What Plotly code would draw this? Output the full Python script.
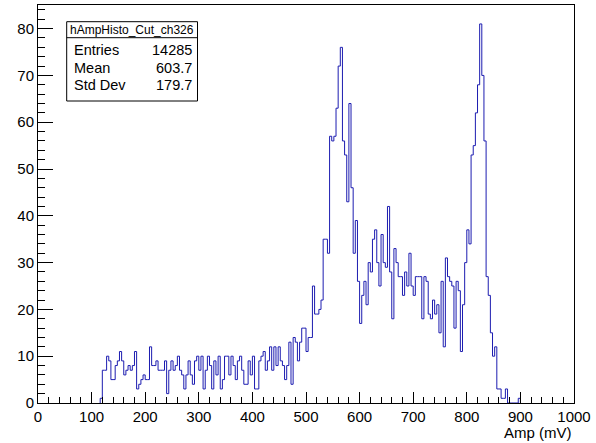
import plotly.graph_objects as go

# ---------------- data ----------------
hist_name = "hAmpHisto_Cut_ch326"
bin_width_mv = 4
first_bin_mv = 116
counts = [
    1,
    7, 7, 10, 9, 5, 5,
    8, 9, 11, 9, 6, 7, 8, 7, 8, 11,
    3, 4, 5, 6, 5, 5, 12, 8, 8, 9,
    7, 7, 7, 9, 2, 7, 9, 7, 8, 10,
    7, 6, 3, 6, 9, 6, 4, 9, 10, 7,
    10, 3, 7, 10, 8, 3, 9, 6, 10, 3,
    5, 10, 10, 6, 10, 8, 5, 9, 10, 7,
    4, 4, 9, 6, 10, 3, 3, 9, 10, 11,
    7, 9, 12, 7, 12, 8, 12, 9, 8, 5,
    8, 13, 4, 14, 13, 9, 13, 16, 16, 11,
    14, 14, 25, 19, 19, 20, 22, 35, 35, 32,
    57, 56, 57, 63, 72, 76, 56, 53, 43, 64,
    46, 32, 39, 26, 17, 23, 26, 21, 30, 28,
    35, 37, 30, 25, 36, 30, 29, 42, 28, 18,
    33, 30, 27, 27, 23, 28, 25, 32, 25, 23,
    27, 27, 27, 18, 27, 26, 19, 18, 22, 19,
    21, 15, 26, 12, 31, 27, 26, 25, 16, 26,
    24, 11, 21, 30, 37, 34, 53, 55, 62, 68,
    81, 70, 56, 27, 23, 15, 10, 12, 3, 3,
    1, 1, 3, 0, 0, 0, 0, 0, 1,
]
x_min, x_max = 0, 1000
x_ticks = list(range(0, 1001, 100))
y_ticks = list(range(0, 81, 10))
x_title = "Amp (mV)"
stat_labels = ["Entries", "Mean", "Std Dev"]
stat_values = ["14285", "603.7", "179.7"]

# ---------------- build step outline ----------------
edges = [first_bin_mv + i * bin_width_mv for i in range(len(counts))]
xs = [edges[0]] + edges + [edges[-1] + bin_width_mv]
ys = [0] + counts + [0]
y_top = max(counts) * 1.05

FONT = "Liberation Sans, Arial, Helvetica, sans-serif"
LINE = "#1c1cb0"

fig = go.Figure()
fig.add_trace(go.Scatter(
    x=xs, y=ys, mode="lines", line=dict(color=LINE, width=1, shape="hv"),
    hoverinfo="skip", showlegend=False,
))

axis_common = dict(
    showgrid=False, zeroline=False, showline=True, linecolor="black",
    linewidth=1, mirror=True, ticks="inside", tickcolor="black",
    tickwidth=1, tickfont=dict(family=FONT, size=15, color="black"),
    layer="above traces",
)
fig.update_xaxes(range=[x_min, x_max], tickvals=x_ticks, ticklen=11,
                 minor=dict(dtick=20, tick0=0, ticks="inside", ticklen=6,
                            tickcolor="black", showgrid=False),
                 **axis_common)
fig.update_yaxes(range=[0, y_top], tickvals=y_ticks, ticklen=15,
                 minor=dict(dtick=2, tick0=0, ticks="inside", ticklen=7,
                            tickcolor="black", showgrid=False),
                 **axis_common)

# ---------------- stats box ----------------
L, T, PW, PH = 38, 5, 536, 398
def px(xp):
    return (xp - L) / PW
def py(yp):
    return (T + PH - yp) / PH

bx0, bx1, by0, by1, sep = 66.7, 197.5, 21.7, 101, 37.7
shapes = [
    dict(type="rect", xref="paper", yref="paper", x0=px(bx0), x1=px(bx1),
         y0=py(by1), y1=py(by0), line=dict(color="black", width=1),
         fillcolor="white", layer="above"),
    dict(type="line", xref="paper", yref="paper", x0=px(bx0), x1=px(bx1),
         y0=py(sep), y1=py(sep), line=dict(color="black", width=1)),
]
annotations = [
    dict(text=hist_name, xref="paper", yref="paper", x=px((bx0 + bx1) / 2),
         y=py(29.7), xanchor="center", yanchor="middle", showarrow=False,
         font=dict(family=FONT, size=12, color="black")),
]
row_y = [50, 67.5, 85]
for lab, val, ry in zip(stat_labels, stat_values, row_y):
    annotations.append(dict(text=lab, xref="paper", yref="paper", x=px(71.5),
                            y=py(ry), xanchor="left", yanchor="middle",
                            showarrow=False,
                            font=dict(family=FONT, size=14.5, color="black")))
    annotations.append(dict(text=val, xref="paper", yref="paper", x=px(194),
                            y=py(ry), xanchor="right", yanchor="middle",
                            showarrow=False,
                            font=dict(family=FONT, size=14.5, color="black")))
annotations.append(dict(text=x_title, xref="paper", yref="paper", x=1, y=0,
                        xanchor="right", yanchor="top", yshift=-19,
                        showarrow=False,
                        font=dict(family=FONT, size=15, color="black")))

fig.update_layout(
    width=596, height=443, autosize=False,
    margin=dict(l=L, r=596 - L - PW, t=T, b=443 - T - PH),
    plot_bgcolor="white", paper_bgcolor="white",
    shapes=shapes, annotations=annotations,
)
fig.write_html("out.html")
